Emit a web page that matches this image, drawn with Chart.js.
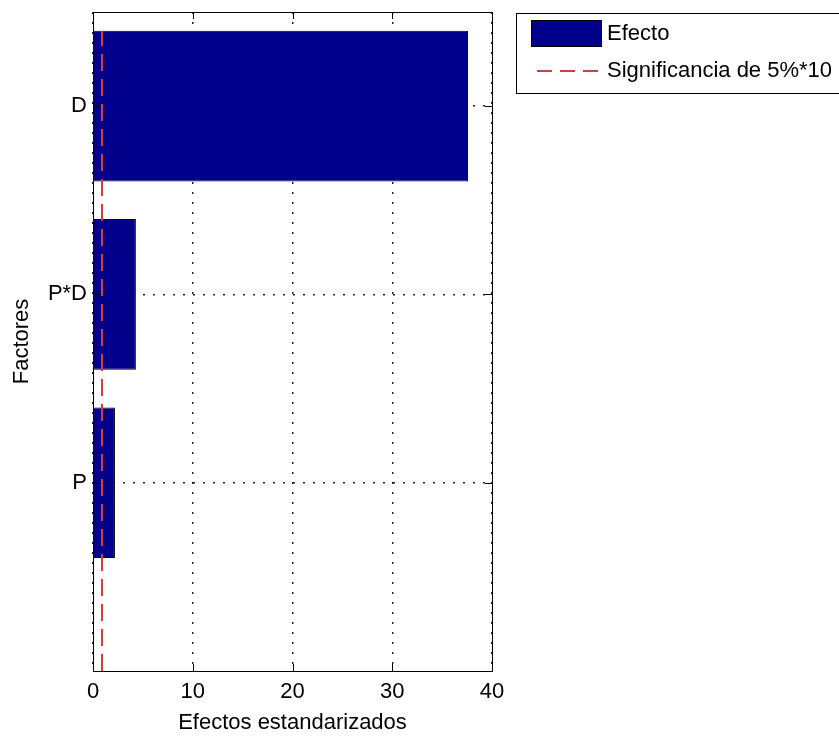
<!DOCTYPE html>
<html>
<head>
<meta charset="utf-8">
<script src="https://cdn.jsdelivr.net/npm/chart.js@4/dist/chart.umd.min.js"></script>
<style>
  body { margin: 0; background: #fff; }
  #grafico { display: block; }
</style>
</head>
<body>
<canvas id="grafico" width="839" height="738"></canvas>
<script>
// datos
var factores = ['P', 'P*D', 'D'];
var posiciones = [1, 2, 3];
var efectos = [2.2, 4.3, 37.6];
var significancia = 0.9;
var lineaSignifY = [0, 3.4];
var ticksX = [0, 10, 20, 30, 40];
var etiquetaEfecto = 'Efecto';
var etiquetaSignif = 'Significancia de 5%*10';

var fuente = "'Liberation Sans', Arial, sans-serif";
var azul = '#00008b';
var rojo = 'rgb(215, 60, 60)';

// caja, marcas hacia adentro y leyenda (estilo matlab)
var cajaMatlab = {
    id: 'cajaMatlab',
    afterDatasetsDraw: function(chart) {
        var ctx = chart.ctx;
        var a = chart.chartArea;
        var sx = chart.scales.x, sy = chart.scales.y;
        ctx.save();
        ctx.strokeStyle = '#000';
        ctx.lineWidth = 1;
        ctx.strokeRect(Math.round(a.left) + 0.5, Math.round(a.top) + 0.5,
            Math.round(a.right - a.left), Math.round(a.bottom - a.top));
        ctx.beginPath();
        ticksX.forEach(function(v) {
            var x = Math.round(sx.getPixelForValue(v)) + 0.5;
            ctx.moveTo(x, a.bottom); ctx.lineTo(x, a.bottom - 7);
            ctx.moveTo(x, a.top); ctx.lineTo(x, a.top + 7);
        });
        posiciones.forEach(function(v) {
            var y = Math.round(sy.getPixelForValue(v)) + 0.5;
            ctx.moveTo(a.left, y); ctx.lineTo(a.left + 7, y);
            ctx.moveTo(a.right, y); ctx.lineTo(a.right - 7, y);
        });
        ctx.stroke();

        // leyenda
        ctx.fillStyle = '#fff';
        ctx.fillRect(517, 13, 340, 80);
        ctx.strokeRect(516.5, 13.5, 340, 80);
        ctx.fillStyle = azul;
        ctx.fillRect(531, 20, 71, 27);
        ctx.strokeRect(531.5, 20.5, 70, 26);
        ctx.strokeStyle = rojo;
        ctx.lineWidth = 2;
        ctx.setLineDash([15, 8]);
        ctx.beginPath();
        ctx.moveTo(537, 71); ctx.lineTo(604, 71);
        ctx.stroke();
        ctx.setLineDash([]);
        ctx.fillStyle = '#000';
        ctx.font = '22px ' + fuente;
        ctx.textAlign = 'left';
        ctx.textBaseline = 'middle';
        ctx.fillText(etiquetaEfecto, 607, 34);
        ctx.fillText(etiquetaSignif, 607, 71);
        ctx.restore();
    }
};

var datosBarras = posiciones.map(function(p, i) { return { x: efectos[i], y: p }; });
var datosLinea = lineaSignifY.map(function(y) { return { x: significancia, y: y }; });

var ctx = document.getElementById('grafico').getContext('2d');
var grafico = new Chart(ctx, {
    type: 'bar',
    data: {
        datasets: [{
            type: 'line',
            label: etiquetaSignif,
            data: datosLinea,
            borderColor: rojo,
            borderWidth: 2,
            borderDash: [17, 8],
            pointRadius: 0,
            fill: false,
            order: 0
        }, {
            label: etiquetaEfecto,
            data: datosBarras,
            backgroundColor: azul,
            borderColor: '#000',
            borderWidth: 1,
            barPercentage: 0.8,
            categoryPercentage: 1.0,
            order: 1
        }]
    },
    options: {
        indexAxis: 'y',
        responsive: false,
        animation: false,
        layout: { padding: { left: 0, right: 347, top: 12, bottom: 0 } },
        plugins: {
            legend: { display: false },
            tooltip: { enabled: false }
        },
        scales: {
            x: {
                type: 'linear',
                min: 0,
                max: 40,
                offset: false,
                afterBuildTicks: function(scale) {
                    scale.ticks = ticksX.map(function(v) { return { value: v }; });
                },
                afterFit: function(scale) {
                    scale.height = 67;
                    scale.paddingLeft = 0;
                    scale.paddingRight = 0;
                },
                ticks: { color: '#000', padding: 8, font: { family: fuente, size: 22 } },
                grid: { color: '#222', lineWidth: 1.5, drawTicks: false, offset: false },
                border: { display: false, dash: [2, 8] },
                title: {
                    display: true,
                    text: 'Efectos estandarizados',
                    color: '#000',
                    font: { family: fuente, size: 22 },
                    padding: { top: 0, bottom: 2 }
                }
            },
            y: {
                type: 'linear',
                min: 0,
                max: 3.5,
                offset: false,
                afterBuildTicks: function(scale) {
                    scale.ticks = posiciones.map(function(v) { return { value: v }; });
                },
                afterFit: function(scale) {
                    scale.width = 93;
                    scale.paddingTop = 0;
                    scale.paddingBottom = 0;
                },
                ticks: {
                    color: '#000',
                    padding: 6,
                    font: { family: fuente, size: 22 },
                    callback: function(v) { return factores[posiciones.indexOf(v)]; }
                },
                grid: { color: '#222', lineWidth: 1.5, drawTicks: false, offset: false },
                border: { display: false, dash: [2, 8] },
                title: {
                    display: true,
                    text: 'Factores',
                    color: '#000',
                    font: { family: fuente, size: 22 },
                    padding: { top: 9, bottom: 0 }
                }
            }
        }
    },
    plugins: [cajaMatlab]
});
</script>
</body>
</html>
